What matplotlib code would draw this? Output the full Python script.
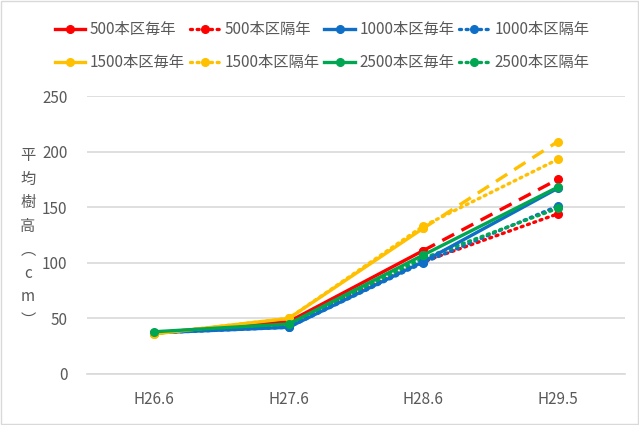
import matplotlib
matplotlib.use("Agg")
import matplotlib.pyplot as plt
from matplotlib.lines import Line2D
from matplotlib.patches import Rectangle

plt.rcParams['font.family'] = ['Noto Sans CJK JP', 'DejaVu Sans']

categories = ["H26.6", "H27.6", "H28.6", "H29.5"]

every_names = ["500本区毎年", "1000本区毎年", "1500本区毎年", "2500本区毎年"]
alt_names = ["500本区隔年", "1000本区隔年", "1500本区隔年", "2500本区隔年"]
colors = ["#FF0000", "#0F6FC6", "#FFC000", "#00A651"]

every_values = [
    [37, 47, 111, 175],
    [37, 42, 101, 167],
    [36, 50, 131, 209],
    [38, 45, 107, 168],
]
alt_values = [
    [37, 46, 101, 144],
    [37, 42, 100, 151],
    [36, 50, 133, 193],
    [37, 44, 104, 149],
]
# style of the last segment of each 毎年 series
last_seg_styles = [(0, (4, 2.5)), '-', (0, (4, 2.5)), '-']

yticks = [0, 50, 100, 150, 200, 250]
ylabel = "平\n均\n樹\n高\n︵\nc\nm\n︶"

fig = plt.figure(figsize=(6.39, 4.25), dpi=100)
ax = fig.add_axes([0.136, 0.12, 0.842, 0.654])

x = list(range(len(categories)))
lw = 2.4
ms = 5.5
handles = {}
for name, vals, c in zip(alt_names, alt_values, colors):
    ax.plot(x, vals, color=c, lw=lw, ls=(0, (0.6, 1.4)), dash_capstyle='round',
            marker='o', ms=ms, zorder=2)
    handles[name] = Line2D([], [], color=c, lw=lw, ls=(0, (0.6, 1.4)),
                           dash_capstyle='round', marker='o', ms=ms)
for name, vals, c, ls in zip(every_names, every_values, colors, last_seg_styles):
    ax.plot(x[:3], vals[:3], color=c, lw=lw, ls='-', marker='o', ms=ms, zorder=3)
    ax.plot(x[2:], vals[2:], color=c, lw=lw, ls=ls, marker='o', ms=ms, zorder=3)
    handles[name] = Line2D([], [], color=c, lw=lw, ls='-', marker='o', ms=ms)

ax.set_xlim(-0.5, 3.5)
ax.set_ylim(0, 250)
ax.set_yticks(yticks)
ax.set_xticks(x)
ax.set_xticklabels(categories)
ax.grid(axis='y', color='#D9D9D9', lw=1.2)
ax.set_axisbelow(True)
for s in ['top', 'right', 'left']:
    ax.spines[s].set_visible(False)
ax.spines['bottom'].set_color('#D9D9D9')
ax.spines['bottom'].set_linewidth(1.2)
ax.tick_params(axis='both', length=0, colors='#595959', labelsize=11)
ax.tick_params(axis='y', pad=14)
ax.tick_params(axis='x', pad=12)

fig.text(0.044, 0.44, ylabel, ha='center', va='center', fontsize=11,
         color='#595959', linespacing=1.5)

names_rows = [
    [every_names[0], alt_names[0], every_names[1], alt_names[1]],
    [every_names[2], alt_names[2], every_names[3], alt_names[3]],
]
# legend fills column-major, so interleave
leg_handles, leg_labels = [], []
for col in range(4):
    for row in range(2):
        n = names_rows[row][col]
        leg_handles.append(handles[n])
        leg_labels.append(n)
fig.legend(leg_handles, leg_labels, ncol=4, loc='upper center',
           bbox_to_anchor=(0.504, 0.982), frameon=False, fontsize=11,
           handlelength=2.0, handletextpad=0.3, columnspacing=0.3,
           labelspacing=1.05, labelcolor='#595959')

fig.patches.append(Rectangle((0.002, 0.002), 0.996, 0.996, transform=fig.transFigure,
                             fill=False, edgecolor='#D9D9D9', lw=1.0))

fig.savefig("out.png", dpi=100)
